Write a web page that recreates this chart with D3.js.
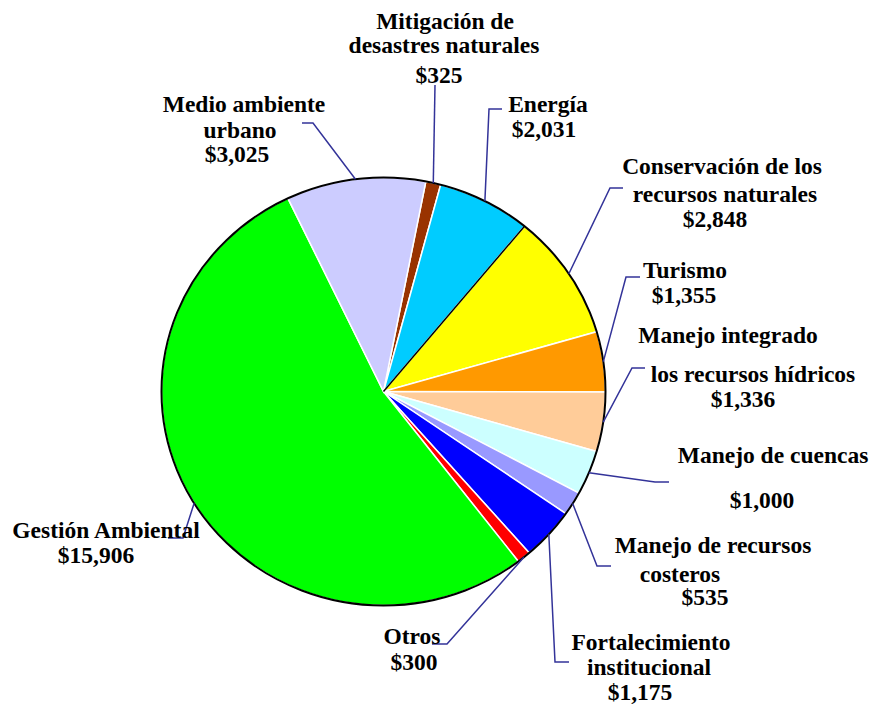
<!DOCTYPE html>
<html lang="es">
<head>
<meta charset="utf-8">
<script src="https://cdnjs.cloudflare.com/ajax/libs/d3/7.8.5/d3.min.js"></script>
<style>
  body { margin: 0; background: #fff; }
  .lbl { font-family: "Liberation Serif", "Times New Roman", serif; font-weight: bold; font-size: 23.5px; fill: #000; }
  .leader { fill: none; stroke: #333399; stroke-width: 1.5; }
</style>
<title>Distribución</title>
</head>
<body>
<div id="chart"></div>
<script>
  // data, clockwise from the top
  const categories = ["Mitigación de\ndesastres naturales", "Energía", "Conservación de los\nrecursos naturales", "Turismo",
    "Manejo integrado\nlos recursos hídricos", "Manejo de cuencas", "Manejo de recursos\ncosteros",
    "Fortalecimiento\ninstitucional", "Otros", "Gestión Ambiental", "Medio ambiente\nurbano"];
  const values = [325, 2031, 2848, 1355, 1336, 1000, 535, 1175, 300, 15906, 3025];
  const colors = ["#993300", "#00CCFF", "#FFFF00", "#FF9900", "#FFCC99", "#CCFFFF", "#9999FF",
    "#0000FF", "#FF0000", "#00FF00", "#CCCCFF"];

  // label layout: text line centres/baselines, and the leader elbow (label end x, y, elbow x)
  const labelLines = [
    [[445, 29], [444, 53], [439, 83]],
    [[548, 112], [544, 137]],
    [[722, 174], [725, 202], [715, 227]],
    [[685, 278], [684, 303]],
    [[728, 343], [753, 382], [743, 407]],
    [[773, 463], [762, 508]],
    [[713, 553], [680, 582], [705, 605]],
    [[651, 650], [649, 675], [640, 700]],
    [[412, 644], [414, 670]],
    [[106, 538], [96, 563]],
    [[244, 112], [240, 138], [237, 162]]
  ];
  const leaders = [
    [435, 85, 435], [502, 109, 489], [623, 188, 610], [640, 277, 626], [645, 368, 632],
    [669, 482, 655], [611, 566, 597], [569, 662, 555], [432, 644, 447], [168, 538, 183], [302, 123, 313]
  ];

  const width = 872, height = 705;
  const cx = 383.5, cy = 391.5, rx = 222, ry = 214;
  const start = 11 * Math.PI / 180;

  const svg = d3.select("#chart").append("svg").attr("width", width).attr("height", height);

  const pie = d3.pie().sort(null).startAngle(start).endAngle(start + 2 * Math.PI);
  const arcs = pie(values);
  const arc = d3.arc().innerRadius(0).outerRadius(rx);

  const g = svg.append("g").attr("transform", "translate(" + cx + "," + cy + ") scale(1," + (ry / rx) + ")");

  g.selectAll("path.slice")
    .data(arcs)
    .enter()
    .append("path")
    .attr("class", "slice")
    .attr("d", arc)
    .attr("fill", function(d, i){ return colors[i]; })
    .attr("stroke", "#fff")
    .attr("stroke-width", 1.5)
    .attr("vector-effect", "non-scaling-stroke");

  // black edge between Energía and Conservación
  const a2 = arcs[2].startAngle;
  g.append("line")
    .attr("x1", 0).attr("y1", 0)
    .attr("x2", rx * Math.sin(a2)).attr("y2", -rx * Math.cos(a2))
    .attr("stroke", "#000").attr("stroke-width", 1.5)
    .attr("vector-effect", "non-scaling-stroke");

  g.append("circle")
    .attr("r", rx)
    .attr("fill", "none")
    .attr("stroke", "#000")
    .attr("stroke-width", 2)
    .attr("vector-effect", "non-scaling-stroke");

  // leader lines to the middle of each slice edge
  const fmt = d3.format(",");
  svg.selectAll("path.leader")
    .data(arcs)
    .enter()
    .append("path")
    .attr("class", "leader")
    .attr("d", function(d, i){
      const m = (d.startAngle + d.endAngle) / 2;
      const px = cx + rx * Math.sin(m), py = cy - ry * Math.cos(m);
      const l = leaders[i];
      return "M" + l[0] + "," + l[1] + "L" + l[2] + "," + l[1] + "L" + px + "," + py;
    });

  arcs.forEach(function(d, i){
    const lines = categories[i].split("\n").concat(["$" + fmt(values[i])]);
    lines.forEach(function(t, j){
      svg.append("text")
        .attr("class", "lbl")
        .attr("x", labelLines[i][j][0])
        .attr("y", labelLines[i][j][1])
        .attr("text-anchor", "middle")
        .text(t);
    });
  });
</script>
</body>
</html>
